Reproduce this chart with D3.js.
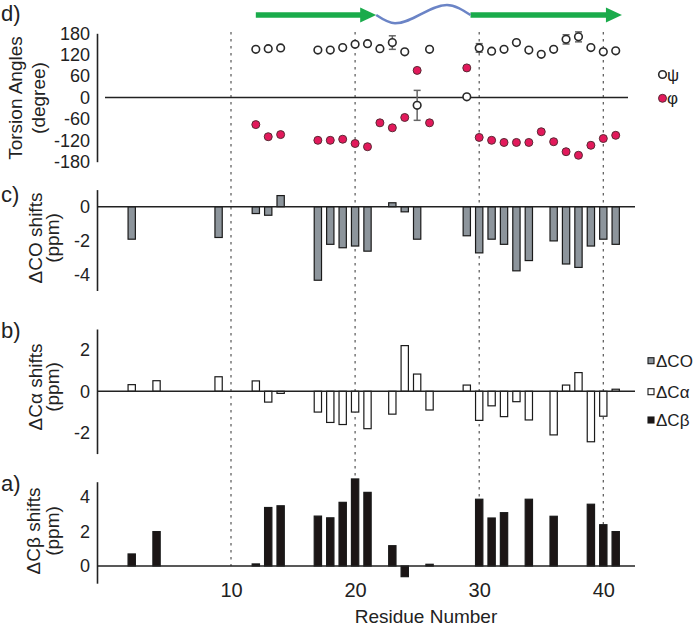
<!DOCTYPE html>
<html><head><meta charset="utf-8">
<script src="https://cdn.jsdelivr.net/npm/d3@7"></script>
<style>
body{margin:0;background:#fff}
svg{display:block}
text{font-family:"Liberation Sans",Arial,Helvetica,sans-serif;fill:#222}
</style>
</head><body>
<svg id="chart" width="693" height="626"></svg>
<script>
// ---- data ----
const torsionResidues = [12,13,14,17,18,19,20,21,22,23,24,25,26,29,30,31,32,33,34,35,36,37,38,39,40,41];
const psiValues = [135,137,139,133,133,140,149,151,137,154,128,-22,135,2,139,130,135,154,133,121,135,163,170,140,128,131];
const phiValues = [-76,-110,-104,-120,-120,-117,-129,-138,-71,-85,-56,76,-71,83,-112,-120,-126,-126,-126,-96,-124,-152,-162,-134,-115,-106];
const psiErrResidues = [23,25,30,37,38];
const psiErrValues = [19,42,12,13,14];

const coResidues = [2,9,12,13,14,17,18,19,20,21,23,24,25,29,30,31,32,33,34,36,37,38,39,40,41];
const coValues = [-1.9,-1.8,-0.4,-0.5,0.65,-4.3,-2.2,-2.4,-2.3,-2.6,0.23,-0.3,-1.9,-1.7,-2.7,-1.9,-2.2,-3.75,-3.15,-2.0,-3.35,-3.55,-2.3,-1.9,-2.2];

const caResidues = [2,4,9,12,13,14,17,18,19,20,21,23,24,25,26,29,30,31,32,33,34,36,37,38,39,40,41];
const caValues = [0.32,0.51,0.7,0.5,-0.52,-0.1,-1.0,-1.5,-1.6,-1.0,-1.8,-1.1,2.2,0.83,-0.9,0.3,-1.4,-0.7,-1.22,-0.5,-1.38,-2.1,0.3,0.9,-2.43,-1.2,0.1];

const cbResidues = [2,4,12,13,14,17,18,19,20,21,23,24,26,30,31,32,34,36,39,40,41];
const cbValues = [0.7,2.0,0.12,3.4,3.5,2.9,2.8,3.7,5.06,4.28,1.18,-0.62,0.1,3.88,2.79,3.1,3.88,2.89,3.59,2.4,2.0];

const xTicks = [10,20,30,40];
const torsionTicks = [180,120,60,0,-60,-120,-180];
const coTicks = [0,-2,-4];
const caTicks = [2,0,-2];
const cbTicks = [4,2,0];

const strandStarts = [12, 29.3];
const strandEnds = [21.7, 41.5];
const loopStart = 21.7, loopEnd = 29.3;

// ---- drawing ----
const svg = d3.select('#chart');
const x = d3.scaleLinear().domain([10,40]).range([231,603.3]);
const yD = d3.scaleLinear().domain([-180,180]).range([161.7,33.3]);
const yC = d3.scaleLinear().domain([-4.9,1.0]).range([290.5,189.6]);
const yB = d3.scaleLinear().domain([-3,3]).range([453.6,329]);
const yA = d3.scaleLinear().domain([-1,4.9]).range([583.2,481.7]);
const axisX = 97;
const dark = '#222';
const fmt = d => String(d);

// dotted guide lines
svg.append('g').selectAll('line').data(xTicks).join('line')
  .attr('x1', d => x(d)).attr('x2', d => x(d))
  .attr('y1', 32).attr('y2', yA(0))
  .attr('stroke', '#555').attr('stroke-width', 1.2)
  .attr('stroke-dasharray', '2.5,4.5');

// secondary structure
const sy = 15;
strandStarts.forEach((s, i) => {
  const x0 = x(s), x1 = x(strandEnds[i]);
  svg.append('line').attr('x1', x0).attr('x2', x1 - 12).attr('y1', sy).attr('y2', sy)
    .attr('stroke', '#1aab4b').attr('stroke-width', 5.5);
  svg.append('path').attr('d', `M${x1-16},${sy-7.5} L${x1},${sy} L${x1-16},${sy+7.5} Z`)
    .attr('fill', '#1aab4b');
});
{
  const a = x(loopStart), b = x(loopEnd);
  const w = b - a;
  const pts = [[a, sy], [a + w*0.2, sy + 8.3], [a + w*0.75, sy - 10], [b, sy]];
  svg.append('path').attr('d', d3.line().curve(d3.curveMonotoneX)(pts))
    .attr('fill', 'none').attr('stroke', '#6b84c6').attr('stroke-width', 2.6);
}

function leftAxis(scale, ticks) {
  const g = svg.append('g').attr('transform', `translate(${axisX},0)`)
    .call(d3.axisLeft(scale).tickValues(ticks).tickFormat(fmt).tickSize(0).tickSizeOuter(0).tickPadding(7));
  g.select('.domain').attr('stroke', dark).attr('stroke-width', 1.6);
  g.selectAll('text').attr('font-size', 18).attr('fill', dark)
    .style('font-family', '"Liberation Sans",Arial,sans-serif');
  return g;
}
leftAxis(yD, torsionTicks);
leftAxis(yC, coTicks);
leftAxis(yB, caTicks);
leftAxis(yA, cbTicks);

// torsion zero line
svg.append('line').attr('x1', 105).attr('x2', 628).attr('y1', yD(0)).attr('y2', yD(0))
  .attr('stroke', dark).attr('stroke-width', 1.5);

// bars
const bw = 7.3;
function bars(res, vals, y, fill) {
  svg.append('g').selectAll('rect').data(res.map((r, i) => [r, vals[i]])).join('rect')
    .attr('x', d => x(d[0]) - bw/2)
    .attr('y', d => Math.min(y(d[1]), y(0)))
    .attr('width', bw)
    .attr('height', d => Math.abs(y(d[1]) - y(0)))
    .attr('fill', fill).attr('stroke', '#1a1a1a').attr('stroke-width', 1.2);
  svg.append('line').attr('x1', axisX).attr('x2', 635).attr('y1', y(0)).attr('y2', y(0))
    .attr('stroke', dark).attr('stroke-width', 1.5);
}
bars(coResidues, coValues, yC, '#8d959c');
bars(caResidues, caValues, yB, '#ffffff');
bars(cbResidues, cbValues, yA, '#1c1616');

// error bars psi
const errG = svg.append('g').attr('stroke', '#666').attr('stroke-width', 1.5);
psiErrResidues.forEach((r, i) => {
  const v = psiValues[torsionResidues.indexOf(r)], e = psiErrValues[i];
  const cx = x(r);
  errG.append('line').attr('x1', cx).attr('x2', cx).attr('y1', yD(v+e)).attr('y2', yD(v-e));
  errG.append('line').attr('x1', cx-3.5).attr('x2', cx+3.5).attr('y1', yD(v+e)).attr('y2', yD(v+e));
  errG.append('line').attr('x1', cx-3.5).attr('x2', cx+3.5).attr('y1', yD(v-e)).attr('y2', yD(v-e));
});

// psi points
svg.append('g').selectAll('circle').data(torsionResidues.map((r, i) => [r, psiValues[i]])).join('circle')
  .attr('cx', d => x(d[0])).attr('cy', d => yD(d[1])).attr('r', 3.8)
  .attr('fill', '#fff').attr('stroke', '#2a2a2a').attr('stroke-width', 1.6);
// phi points
svg.append('g').selectAll('circle').data(torsionResidues.map((r, i) => [r, phiValues[i]])).join('circle')
  .attr('cx', d => x(d[0])).attr('cy', d => yD(d[1])).attr('r', 4)
  .attr('fill', '#e2195b').attr('stroke', '#5a2a35').attr('stroke-width', 1);

// x axis labels
const xg = svg.append('g').attr('transform', `translate(0,583)`)
  .call(d3.axisBottom(x).tickValues(xTicks).tickFormat(fmt).tickSize(0).tickPadding(0));
xg.select('.domain').remove();
xg.selectAll('text').attr('font-size', 20).attr('fill', dark)
  .style('font-family', '"Liberation Sans",Arial,sans-serif');

svg.append('text').attr('x', 426).attr('y', 623).attr('text-anchor', 'middle')
  .attr('font-size', 19).text('Residue Number');

// panel labels
[['d)', 20.5], ['c)', 201.5], ['b)', 338], ['a)', 490.5]].forEach(([t, yy]) => {
  svg.append('text').attr('x', 1).attr('y', yy).attr('font-size', 22).text(t);
});

// y titles
function ytitle(lines, cy) {
  lines.forEach(([t, bx]) => {
    svg.append('text').attr('transform', `translate(${bx},${cy}) rotate(-90)`)
      .attr('text-anchor', 'middle').attr('font-size', 19).text(t);
  });
}
ytitle([['Torsion Angles', 22], ['(degree)', 45]], 98);
ytitle([['ΔCO shifts', 41.5], ['(ppm)', 59]], 238);
ytitle([['ΔCα shifts', 41.5], ['(ppm)', 59]], 387);
ytitle([['ΔCβ shifts', 40], ['(ppm)', 59]], 531);

// torsion legend
svg.append('circle').attr('cx', 662.5).attr('cy', 74.5).attr('r', 3.8)
  .attr('fill', '#fff').attr('stroke', '#2a2a2a').attr('stroke-width', 1.6);
svg.append('text').attr('x', 667).attr('y', 80.5).attr('font-size', 17).text('ψ');
svg.append('circle').attr('cx', 662.5).attr('cy', 98.3).attr('r', 4)
  .attr('fill', '#e2195b').attr('stroke', '#5a2a35').attr('stroke-width', 1);
svg.append('text').attr('x', 667).attr('y', 104).attr('font-size', 17).text('φ');

// bar legend
const legNames = ['ΔCO', 'ΔCα', 'ΔCβ'];
const legFills = ['#8d959c', '#ffffff', '#1c1616'];
const legY = [360.7, 391.7, 420];
legNames.forEach((n, i) => {
  svg.append('rect').attr('x', 648).attr('y', legY[i] - 3).attr('width', 6).attr('height', 6)
    .attr('fill', legFills[i]).attr('stroke', '#1a1a1a').attr('stroke-width', 1.1);
  svg.append('text').attr('x', 656).attr('y', legY[i] + 6).attr('font-size', 17).text(n);
});
</script>
</body></html>
